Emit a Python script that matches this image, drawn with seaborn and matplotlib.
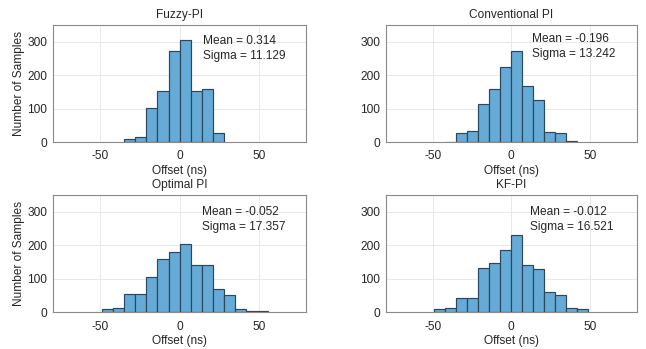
import numpy as np
import pandas as pd
import matplotlib
matplotlib.use("Agg")
import matplotlib.pyplot as plt
import seaborn as sns

# Histogram bin edges (ns) and sample counts per bin for each controller
fuzzy_edges = [-35, -28, -21, -14, -7, 0, 7, 14, 21, 28]
fuzzy_counts = [8, 14, 103, 154, 273, 304, 152, 159, 27]

conv_edges = [-42, -35, -28, -21, -14, -7, 0, 7, 14, 21, 28, 35, 42]
conv_counts = [1, 26, 34, 115, 159, 226, 274, 167, 127, 29, 28, 3]

optimal_edges = [-49, -42, -35, -28, -21, -14, -7, 0, 7, 14, 21, 28, 35, 42, 49, 56]
optimal_counts = [10, 12, 55, 55, 105, 159, 180, 204, 141, 141, 70, 51, 11, 5, 3]

kf_edges = [-49, -42, -35, -28, -21, -14, -7, 0, 7, 14, 21, 28, 35, 42, 49]
kf_counts = [9, 14, 43, 43, 132, 146, 185, 231, 141, 130, 60, 51, 12, 9]

titles = ["Fuzzy-PI", "Conventional PI", "Optimal PI", "KF-PI"]
means = [0.314, -0.196, -0.052, -0.012]
sigmas = [11.129, 13.242, 17.357, 16.521]

x_ticks = [-50, 0, 50]
y_ticks = [0, 100, 200, 300]

sns.set_theme(style="white")
plt.rcParams["font.family"] = ["Liberation Sans", "DejaVu Sans"]
plt.rcParams["axes.unicode_minus"] = False

panels = [
    (fuzzy_edges, fuzzy_counts),
    (conv_edges, conv_counts),
    (optimal_edges, optimal_counts),
    (kf_edges, kf_counts),
]

# axes rectangles [left, bottom, width, height] in figure fraction
rects = [
    [0.082, 0.593, 0.392, 0.335],
    [0.597, 0.593, 0.389, 0.335],
    [0.082, 0.105, 0.392, 0.336],
    [0.597, 0.105, 0.389, 0.336],
]
text_x = [14.5, 13.0, 14.0, 12.2]
text_y = [280, 285, 278, 278]

fig = plt.figure(figsize=(6.46, 3.49), dpi=100)
fig.patch.set_facecolor("white")

fs = 8.6
txt_col = "#262626"
spine_col = "#8a8a8a"

for i, ((edges, counts), rect) in enumerate(zip(panels, rects)):
    ax = fig.add_axes(rect)
    centers = [(a + b) / 2 for a, b in zip(edges[:-1], edges[1:])]
    df = pd.DataFrame({"offset": centers, "count": counts})
    sns.histplot(
        data=df, x="offset", weights="count", bins=list(edges), ax=ax,
        color="#66AAD7", alpha=1.0, edgecolor="#2c475c", linewidth=0.85,
        stat="count",
    )
    ax.set_xlim(-80, 80)
    ax.set_ylim(0, 350)
    ax.set_xticks(x_ticks)
    ax.set_yticks(y_ticks)
    ax.set_axisbelow(True)
    ax.grid(True, color="#e8e8e8", linewidth=0.7)
    for s in ax.spines.values():
        s.set_color(spine_col)
        s.set_linewidth(0.8)
        s.set_visible(True)
    ax.tick_params(direction="in", length=2.5, width=0.6, colors=spine_col,
                   labelcolor=txt_col, labelsize=fs)
    ax.tick_params(axis="x", pad=6)
    ax.tick_params(axis="y", pad=4)
    ax.set_title(titles[i], fontsize=fs, color=txt_col, pad=5)
    ax.set_xlabel("Offset (ns)", fontsize=fs, color=txt_col, labelpad=2)
    if i % 2 == 0:
        ax.set_ylabel("Number of Samples", fontsize=fs, color=txt_col, labelpad=2)
    else:
        ax.set_ylabel("")
    ax.text(text_x[i], text_y[i],
            f"Mean = {means[i]:.3f}\nSigma = {sigmas[i]:.3f}",
            fontsize=fs, color=txt_col, ha="left", va="center",
            linespacing=1.3)

fig.savefig("out.png", dpi=100, facecolor="white")
